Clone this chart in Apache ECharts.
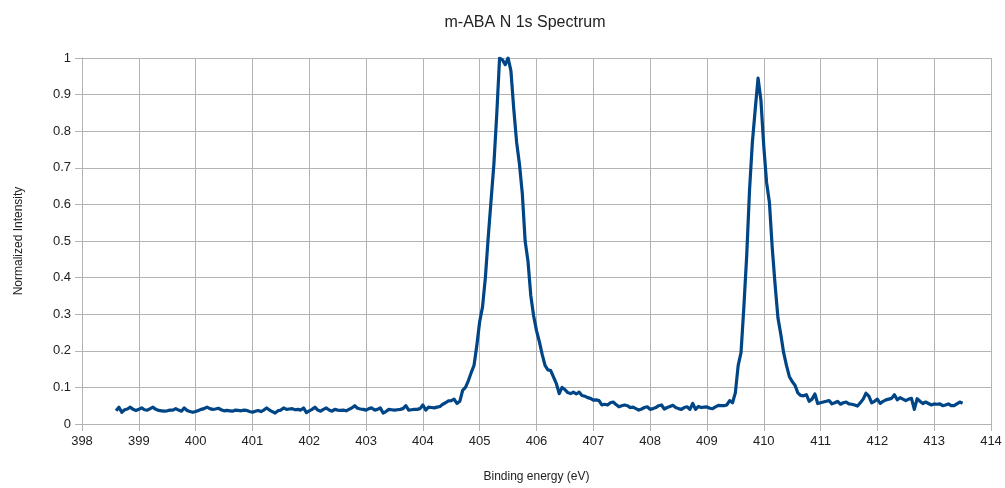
<!DOCTYPE html>
<html>
<head>
<meta charset="utf-8">
<title>m-ABA N 1s Spectrum</title>
<script src="https://cdn.jsdelivr.net/npm/echarts@6/dist/echarts.min.js"></script>
<style>
  html, body { margin: 0; padding: 0; background: #ffffff; }
  #chart { width: 1005px; height: 488px; }
</style>
</head>
<body>
<div id="chart"></div>
<script>
// Binding energy (eV) of each measured point
const bindingEnergy = [
  398.60, 398.65, 398.70, 398.75, 398.80, 398.85, 398.90, 398.95,
  399.00, 399.05, 399.10, 399.15, 399.20, 399.25, 399.30, 399.35, 399.40, 399.45, 399.50, 399.55, 399.60, 399.65, 399.70, 399.75, 399.80, 399.85, 399.90, 399.95,
  400.00, 400.05, 400.10, 400.15, 400.20, 400.25, 400.30, 400.35, 400.40, 400.45, 400.50, 400.55, 400.60, 400.65, 400.70, 400.75, 400.80, 400.85, 400.90, 400.95,
  401.00, 401.05, 401.10, 401.15, 401.20, 401.25, 401.30, 401.35, 401.40, 401.45, 401.50, 401.55, 401.60, 401.65, 401.70, 401.75, 401.80, 401.85, 401.90, 401.95,
  402.00, 402.05, 402.10, 402.15, 402.20, 402.25, 402.30, 402.35, 402.40, 402.45, 402.50, 402.55, 402.60, 402.65, 402.70, 402.75, 402.80, 402.85, 402.90, 402.95,
  403.00, 403.05, 403.10, 403.15, 403.20, 403.25, 403.30, 403.35, 403.40, 403.45, 403.50, 403.55, 403.60, 403.65, 403.70, 403.75, 403.80, 403.85, 403.90, 403.95,
  404.00, 404.05, 404.10, 404.15, 404.20, 404.25, 404.30, 404.35, 404.40, 404.45, 404.50, 404.55, 404.60, 404.65, 404.70, 404.75, 404.80, 404.85, 404.90, 404.95,
  405.00, 405.05, 405.10, 405.15, 405.20, 405.25, 405.30, 405.35, 405.40, 405.45, 405.50, 405.55, 405.60, 405.65, 405.70, 405.75, 405.80, 405.85, 405.90, 405.95,
  406.00, 406.05, 406.10, 406.15, 406.20, 406.25, 406.30, 406.35, 406.40, 406.45, 406.50, 406.55, 406.60, 406.65, 406.70, 406.75, 406.80, 406.85, 406.90, 406.95,
  407.00, 407.05, 407.10, 407.15, 407.20, 407.25, 407.30, 407.35, 407.40, 407.45, 407.50, 407.55, 407.60, 407.65, 407.70, 407.75, 407.80, 407.85, 407.90, 407.95,
  408.00, 408.05, 408.10, 408.15, 408.20, 408.25, 408.30, 408.35, 408.40, 408.45, 408.50, 408.55, 408.60, 408.65, 408.70, 408.75, 408.80, 408.85, 408.90, 408.95,
  409.00, 409.05, 409.10, 409.15, 409.20, 409.25, 409.30, 409.35, 409.40, 409.45, 409.50, 409.55, 409.60, 409.65, 409.70, 409.75, 409.80, 409.85, 409.90, 409.95,
  410.00, 410.05, 410.10, 410.15, 410.20, 410.25, 410.30, 410.35, 410.40, 410.45, 410.50, 410.55, 410.60, 410.65, 410.70, 410.75, 410.80, 410.85, 410.90, 410.95,
  411.00, 411.05, 411.10, 411.15, 411.20, 411.25, 411.30, 411.35, 411.40, 411.45, 411.50, 411.55, 411.60, 411.65, 411.70, 411.75, 411.80, 411.85, 411.90, 411.95,
  412.00, 412.05, 412.10, 412.15, 412.20, 412.25, 412.30, 412.35, 412.40, 412.45, 412.50, 412.55, 412.60, 412.65, 412.70, 412.75, 412.80, 412.85, 412.90, 412.95,
  413.00, 413.05, 413.10, 413.15, 413.20, 413.25, 413.30, 413.35, 413.40, 413.45, 413.50
];

// Normalized N 1s intensity at each binding energy
const normalizedIntensity = [
  0.036, 0.046, 0.032, 0.039, 0.041, 0.046, 0.040, 0.037,
  0.040, 0.044, 0.039, 0.038, 0.042, 0.046, 0.040, 0.037, 0.036, 0.035, 0.036, 0.038, 0.038, 0.042, 0.038, 0.035, 0.044, 0.037, 0.034, 0.032,
  0.034, 0.037, 0.040, 0.042, 0.046, 0.042, 0.040, 0.041, 0.043, 0.039, 0.036, 0.037, 0.036, 0.035, 0.038, 0.037, 0.036, 0.038, 0.037, 0.034,
  0.032, 0.035, 0.037, 0.034, 0.038, 0.044, 0.038, 0.034, 0.030, 0.036, 0.038, 0.044, 0.040, 0.041, 0.042, 0.039, 0.040, 0.038, 0.044, 0.031,
  0.036, 0.040, 0.046, 0.038, 0.035, 0.040, 0.044, 0.038, 0.035, 0.040, 0.038, 0.037, 0.038, 0.036, 0.040, 0.044, 0.050, 0.043, 0.041, 0.040,
  0.038, 0.042, 0.044, 0.038, 0.040, 0.044, 0.030, 0.034, 0.040, 0.039, 0.038, 0.039, 0.040, 0.042, 0.050, 0.038, 0.039, 0.040, 0.040, 0.042,
  0.052, 0.038, 0.046, 0.045, 0.044, 0.046, 0.048, 0.054, 0.058, 0.063, 0.064, 0.068, 0.056, 0.062, 0.092, 0.100, 0.118, 0.140, 0.160, 0.215,
  0.280, 0.320, 0.400, 0.510, 0.610, 0.710, 0.845, 1.000, 0.995, 0.982, 1.000, 0.965, 0.860, 0.770, 0.710, 0.630, 0.500, 0.445, 0.350, 0.295,
  0.255, 0.225, 0.190, 0.160, 0.148, 0.146, 0.128, 0.110, 0.083, 0.100, 0.094, 0.086, 0.083, 0.087, 0.082, 0.087, 0.078, 0.076, 0.072, 0.070,
  0.065, 0.066, 0.064, 0.052, 0.054, 0.052, 0.058, 0.060, 0.053, 0.047, 0.050, 0.052, 0.050, 0.045, 0.046, 0.042, 0.038, 0.041, 0.045, 0.047,
  0.040, 0.042, 0.045, 0.050, 0.052, 0.041, 0.045, 0.048, 0.051, 0.045, 0.042, 0.040, 0.045, 0.047, 0.040, 0.056, 0.040, 0.048, 0.045, 0.046,
  0.047, 0.043, 0.042, 0.047, 0.051, 0.050, 0.050, 0.052, 0.064, 0.058, 0.085, 0.160, 0.195, 0.320, 0.460, 0.640, 0.770, 0.860, 0.945, 0.885,
  0.760, 0.660, 0.605, 0.480, 0.380, 0.290, 0.245, 0.195, 0.160, 0.130, 0.116, 0.106, 0.085, 0.078, 0.077, 0.080, 0.062, 0.068, 0.082, 0.056,
  0.058, 0.060, 0.062, 0.064, 0.055, 0.058, 0.062, 0.054, 0.058, 0.060, 0.055, 0.054, 0.052, 0.049, 0.058, 0.068, 0.084, 0.076, 0.058, 0.062,
  0.068, 0.056, 0.062, 0.066, 0.068, 0.070, 0.080, 0.066, 0.072, 0.068, 0.064, 0.068, 0.070, 0.040, 0.069, 0.062, 0.056, 0.060, 0.056, 0.052,
  0.055, 0.054, 0.055, 0.050, 0.052, 0.055, 0.050, 0.050, 0.055, 0.060, 0.057
];

// Axis ranges and tick spacing
const energyAxis = { min: 398, max: 414, step: 1 };
const intensityAxis = { min: 0, max: 1, step: 0.1 };

const chartTitle = 'm-ABA N 1s Spectrum';
const xAxisTitle = 'Binding energy (eV)';
const yAxisTitle = 'Normalized Intensity';

const points = bindingEnergy.map((e, i) => [e, normalizedIntensity[i]]);

const gridColor = '#b3b3b3';
const textColor = '#222222';
const fontFamily = '"Liberation Sans", Arial, sans-serif';

const chart = echarts.init(document.getElementById('chart'), null, { renderer: 'canvas' });
chart.setOption({
  animation: false,
  backgroundColor: '#ffffff',
  title: {
    text: chartTitle,
    left: 520,
    top: 10,
    textAlign: 'center',
    textStyle: { fontFamily, fontSize: 16, fontWeight: 'normal', color: textColor }
  },
  grid: { left: 82, right: 14, top: 58, bottom: 61, containLabel: false },
  xAxis: {
    type: 'value',
    min: energyAxis.min,
    max: energyAxis.max,
    interval: energyAxis.step,
    name: xAxisTitle,
    nameLocation: 'middle',
    nameGap: 47,
    nameTextStyle: { fontFamily, fontSize: 12, color: textColor },
    axisLine: { show: true, lineStyle: { color: gridColor, width: 1 } },
    axisTick: { show: true, length: 7, lineStyle: { color: gridColor } },
    axisLabel: { fontFamily, fontSize: 13, color: textColor, margin: 11 },
    splitLine: { show: true, lineStyle: { color: gridColor, width: 1 } }
  },
  yAxis: {
    type: 'value',
    min: intensityAxis.min,
    max: intensityAxis.max,
    interval: intensityAxis.step,
    name: yAxisTitle,
    nameLocation: 'middle',
    nameGap: 57,
    nameTextStyle: { fontFamily, fontSize: 12, color: textColor },
    axisLine: { show: true, lineStyle: { color: gridColor, width: 1 } },
    axisTick: { show: true, length: 7, lineStyle: { color: gridColor } },
    axisLabel: { fontFamily, fontSize: 13, color: textColor, margin: 11 },
    splitLine: { show: true, lineStyle: { color: gridColor, width: 1 } }
  },
  series: [{
    type: 'line',
    data: points,
    showSymbol: false,
    smooth: false,
    lineStyle: { color: '#004586', width: 3.2, join: 'round' },
    itemStyle: { color: '#004586' }
  }]
});
</script>
</body>
</html>
